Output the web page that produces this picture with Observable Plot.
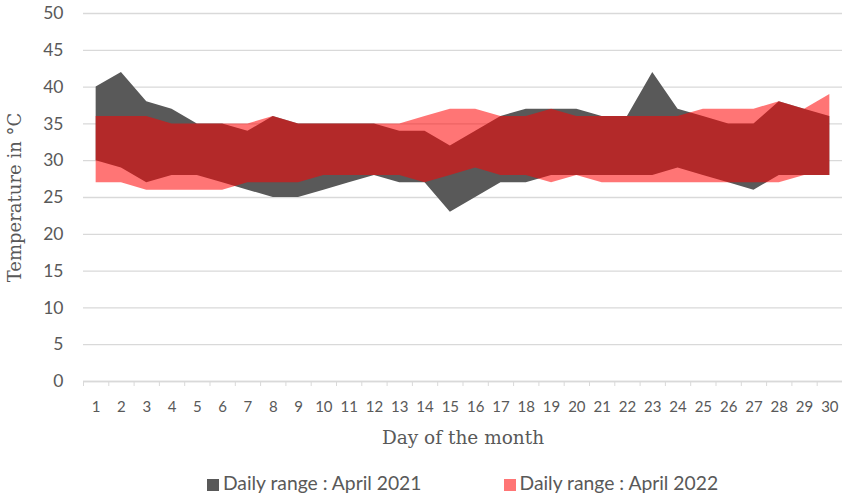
<!DOCTYPE html>
<html>
<head>
<meta charset="utf-8">
<script src="https://cdn.jsdelivr.net/npm/d3@7"></script>
<script src="https://cdn.jsdelivr.net/npm/@observablehq/plot@0.6"></script>
<style>
  html, body { margin: 0; padding: 0; background: #fff; }
  #chart { width: 842px; }
  .legend { display: flex; justify-content: center; gap: 82px; font-family: Lato, "Open Sans", sans-serif; font-size: 19.3px; color: #595959; height: 36px; align-items: center; margin-top: 4px; padding-left: 83px; }
  .legend span.sw { display: inline-block; width: 12px; height: 12px; margin-right: 4px; vertical-align: -1px; }
</style>
</head>
<body>
<div id="chart"></div>
<script>
const days = d3.range(1, 31);
const high2021 = [40,42,38,37,35,35,34,36,35,35,35,35,34,34,32,34,36,37,37,37,36,36,42,37,36,35,35,38,37,36];
const low2021  = [30,29,27,28,28,27,26,25,25,26,27,28,27,27,23,25,27,27,28,28,28,28,28,29,28,27,26,28,28,28];
const high2022 = [36,36,36,35,35,35,35,36,35,35,35,35,35,36,37,37,36,36,37,36,36,36,36,36,37,37,37,38,37,39];
const low2022  = [27,27,26,26,26,26,27,27,27,28,28,28,28,27,28,29,28,28,27,28,27,27,27,27,27,27,27,27,28,28];
const yTicks = [0,5,10,15,20,25,30,35,40,45,50];
const seriesNames = ["Daily range : April 2021", "Daily range : April 2022"];
const seriesColors = ["#595959", "#ff0000"];

const d21 = days.map((d, i) => ({day: d, lo: low2021[i], hi: high2021[i]}));
const d22 = days.map((d, i) => ({day: d, lo: low2022[i], hi: high2022[i]}));
const boundaries = d3.range(0.5, 31, 1);

const chart = Plot.plot({
  width: 842,
  height: 460,
  marginLeft: 83,
  marginRight: 0,
  marginTop: 13,
  marginBottom: 79,
  style: {fontFamily: "Lato, 'Open Sans', sans-serif", color: "#595959", background: "#fff"},
  x: {domain: [0.5, 30.5]},
  y: {domain: [0, 50]},
  marks: [
    Plot.gridY(yTicks, {stroke: "#d9d9d9", strokeOpacity: 1, strokeWidth: 1.3}),
    Plot.areaY(d21, {x: "day", y1: "lo", y2: "hi", fill: seriesColors[0]}),
    Plot.areaY(d22, {x: "day", y1: "lo", y2: "hi", fill: seriesColors[1], fillOpacity: 0.54}),
    Plot.ruleY([0], {stroke: "#d9d9d9", strokeWidth: 1.3}),
    Plot.axisY(yTicks, {tickSize: 0, tickPadding: 20, fontSize: 17.5, label: null, fill: "#595959"}),
    Plot.axisX(days, {tickSize: 0, tickPadding: 20, fontSize: 15, label: null, fill: "#595959"}),
    Plot.axisX(boundaries, {tickSize: 5, text: null, label: null, stroke: "#d9d9d9"}),
    Plot.text(["Temperature in °C"], {frameAnchor: "left", textAnchor: "middle", dx: -68, rotate: -90, fontFamily: "'DejaVu Serif', 'Liberation Serif', serif", fontSize: 18, fill: "#595959"}),
    Plot.text(["Day of the month"], {frameAnchor: "bottom", lineAnchor: "middle", dy: 57, fontFamily: "'DejaVu Serif', 'Liberation Serif', serif", fontSize: 18.5, fill: "#595959"})
  ]
});
document.getElementById("chart").appendChild(chart);

const legend = document.createElement("div");
legend.className = "legend";
seriesNames.forEach((name, i) => {
  const item = document.createElement("div");
  const sw = document.createElement("span");
  sw.className = "sw";
  sw.style.background = i === 0 ? seriesColors[0] : "rgba(255,0,0,0.54)";
  item.appendChild(sw);
  item.appendChild(document.createTextNode(name));
  legend.appendChild(item);
});
document.getElementById("chart").appendChild(legend);
</script>
</body>
</html>
